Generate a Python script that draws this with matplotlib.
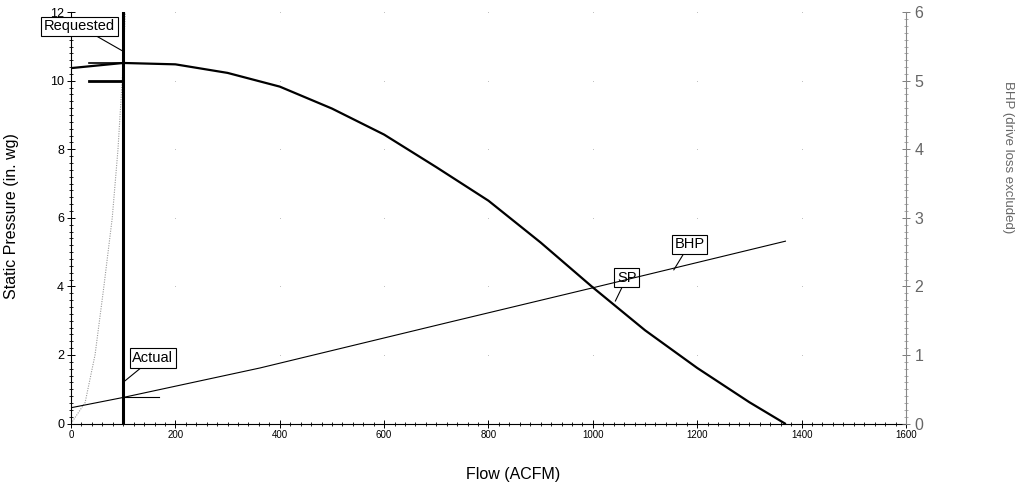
import numpy as np
import matplotlib
matplotlib.use("Agg")
import matplotlib.pyplot as plt
from matplotlib.ticker import MultipleLocator

plt.rcParams['font.family'] = ['Liberation Sans', 'DejaVu Sans']

# fan static pressure curve (in. wg) vs flow (ACFM)
sp_flow = [0, 100, 200, 300, 400, 500, 600, 700, 800, 900, 1000, 1100, 1200, 1300, 1368]
sp_vals = [10.37, 10.52, 10.48, 10.23, 9.83, 9.19, 8.43, 7.48, 6.50, 5.28, 3.97, 2.72, 1.62, 0.62, 0.0]

# brake horsepower (right axis)
bhp_flow = [0, 100, 362, 726, 1000, 1369]
bhp_vals = [0.23, 0.38, 0.81, 1.48, 1.98, 2.66]

# system curve (dotted)
sys_flow = [0, 27, 46, 63, 79, 90, 100, 104]
sys_vals = [0.0, 0.61, 2.0, 4.0, 6.0, 8.0, 10.5, 12.0]

op_flow = 100          # operating flow
requested_sp = 10.0
actual_sp = 10.52
actual_bhp = 0.38

fig = plt.figure(figsize=(10.16, 4.84), dpi=100)
ax = fig.add_axes([0.0699, 0.125, 0.8218, 0.8497])
ax2 = ax.twinx()

ax.set_xlim(0, 1600)
ax.set_ylim(0, 12)
ax2.set_ylim(0, 6)

# faint grid dots at major intersections
gx, gy = np.meshgrid(np.arange(200, 1600, 200), np.arange(2, 13, 2))
ax.plot(gx.ravel(), gy.ravel(), ls='none', marker='s', ms=0.6, mew=0,
        color='#bbbbbb', zorder=0)

ax.plot(sys_flow, sys_vals, color='#999999', lw=0.8, ls=(0, (1, 1.2)), zorder=2)
ax.plot(sp_flow, sp_vals, color='black', lw=1.6, zorder=3)
ax2.plot(bhp_flow, bhp_vals, color='black', lw=0.8, zorder=3)

ax.axvline(op_flow, color='black', lw=2.2, zorder=4)
ax.plot([35, op_flow], [requested_sp, requested_sp], color='black', lw=2.0, zorder=4)
ax.plot([35, op_flow], [actual_sp, actual_sp], color='black', lw=1.2, zorder=4)
ax2.plot([op_flow, 168], [actual_bhp, actual_bhp], color='black', lw=0.8, zorder=4)

box = dict(boxstyle='square,pad=0.18', fc='white', ec='black', lw=0.8)
arr = dict(arrowstyle='-', color='black', lw=0.8, shrinkA=0, shrinkB=0)
ax.annotate('Requested', xy=(100, 10.86), xytext=(16, 11.59), fontsize=10.5,
            ha='center', va='center', bbox=box, arrowprops=arr, zorder=6)
ax.annotate('Actual', xy=(103, 1.24), xytext=(157, 1.91), fontsize=10.5,
            ha='center', va='center', bbox=box, arrowprops=arr, zorder=6)
ax.annotate('BHP', xy=(1155, 4.48), xytext=(1185, 5.23), fontsize=10.5,
            ha='center', va='center', bbox=box, arrowprops=arr, zorder=6)
ax.annotate('SP', xy=(1043, 3.57), xytext=(1065, 4.26), fontsize=10.5,
            ha='center', va='center', bbox=box, arrowprops=arr, zorder=6)

# axes styling
ax.spines['top'].set_visible(False)
ax2.spines['top'].set_visible(False)
ax.spines['right'].set_visible(False)
ax2.spines['left'].set_visible(False)
ax2.spines['bottom'].set_visible(False)
ax2.spines['right'].set_color('#888888')
ax2.spines['right'].set_linestyle((0, (1, 1)))
ax.spines['left'].set_linewidth(0.8)
ax.spines['bottom'].set_linewidth(0.8)

ax.xaxis.set_major_locator(MultipleLocator(200))
ax.xaxis.set_minor_locator(MultipleLocator(20))
ax.yaxis.set_major_locator(MultipleLocator(2))
ax.yaxis.set_minor_locator(MultipleLocator(0.2))
ax2.yaxis.set_major_locator(MultipleLocator(1))
ax2.yaxis.set_minor_locator(MultipleLocator(0.1))

ax.tick_params(axis='x', which='major', direction='inout', length=6, width=0.7,
               labelsize=7, pad=2)
ax.tick_params(axis='x', which='minor', direction='inout', length=3, width=0.6)
ax.tick_params(axis='y', which='major', direction='inout', length=6, width=0.7,
               labelsize=9, pad=2)
ax.tick_params(axis='y', which='minor', direction='inout', length=3, width=0.6)
ax2.tick_params(axis='y', which='major', direction='inout', length=6, width=0.6,
                labelsize=11.5, colors='#666666', pad=3)
ax2.tick_params(axis='y', which='minor', direction='inout', length=3, width=0.5,
                colors='#888888')

ax.set_xlabel('Flow (ACFM)', fontsize=11.5)
ax.xaxis.set_label_coords(0.53, -0.105)
ax.set_ylabel('Static Pressure (in. wg)', fontsize=11.5)
ax.yaxis.set_label_coords(-0.062, 0.505)
ax2.set_ylabel('BHP (drive loss excluded)', fontsize=9.5, color='#666666',
               rotation=-90, va='center')
ax2.yaxis.set_label_coords(1.122, 0.648)

fig.savefig('out.png', dpi=100)
